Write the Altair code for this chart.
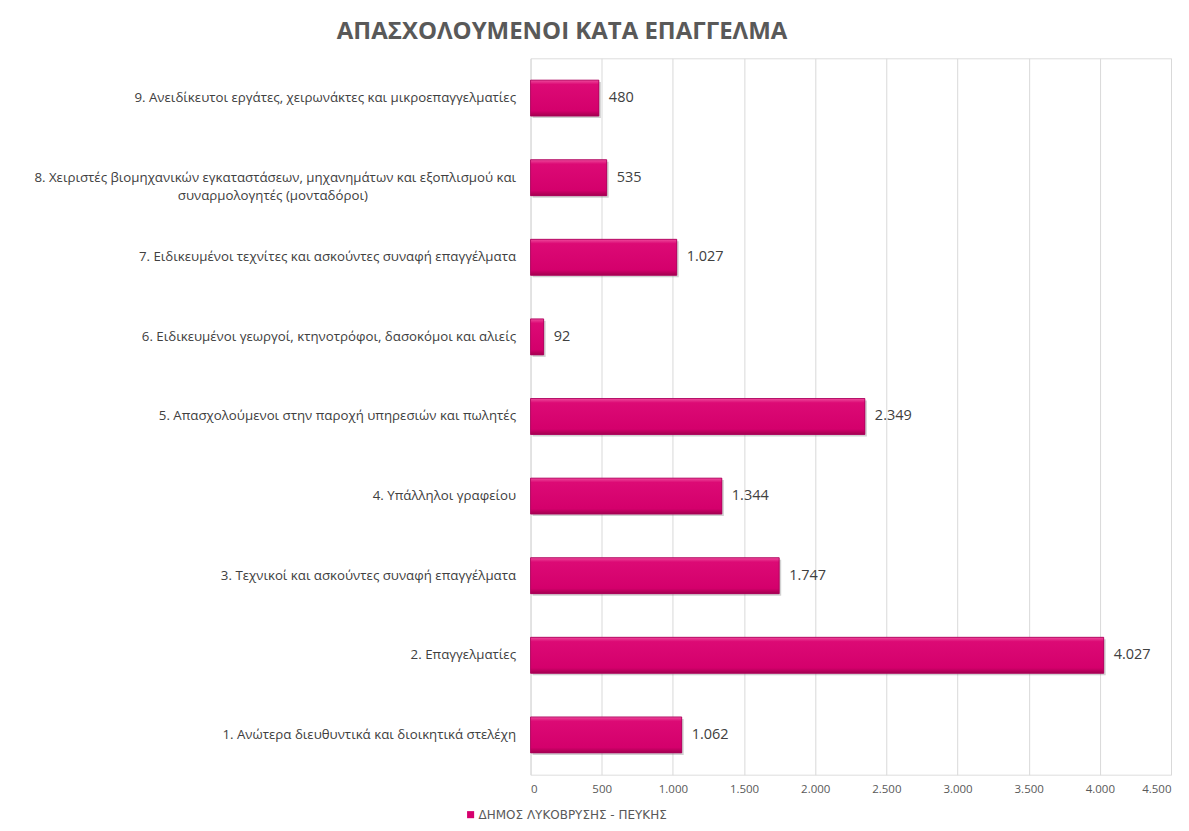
import altair as alt
import pandas as pd

categories = [
    "9. Ανειδίκευτοι εργάτες, χειρωνάκτες και μικροεπαγγελματίες",
    "8. Χειριστές βιομηχανικών εγκαταστάσεων, μηχανημάτων και εξοπλισμού και\nσυναρμολογητές (μονταδόροι)",
    "7. Ειδικευμένοι τεχνίτες και ασκούντες συναφή επαγγέλματα",
    "6. Ειδικευμένοι γεωργοί, κτηνοτρόφοι, δασοκόμοι και αλιείς",
    "5. Απασχολούμενοι στην παροχή υπηρεσιών και πωλητές",
    "4. Υπάλληλοι γραφείου",
    "3. Τεχνικοί και ασκούντες συναφή επαγγέλματα",
    "2. Επαγγελματίες",
    "1. Ανώτερα διευθυντικά και διοικητικά στελέχη",
]
values = [480, 535, 1027, 92, 2349, 1344, 1747, 4027, 1062]
series_name = "ΔΗΜΟΣ ΛΥΚΟΒΡΥΣΗΣ - ΠΕΥΚΗΣ"
x_ticks = [0, 500, 1000, 1500, 2000, 2500, 3000, 3500, 4000, 4500]

df = pd.DataFrame({"category": categories, "value": values, "series": series_name})

FONT = "Open Sans"
TEXT = "#404040"
PINK = "#D6006E"

nb = "\u00a0"
zw = "\u200b"
label_expr = (
    "indexof(datum.label, '\\n') >= 0 ? "
    "[split(datum.label, '\\n')[0], pad(split(datum.label, '\\n')[1], 70, '" + nb + "') + '" + zw + "'] "
    ": datum.label"
)

y_enc = alt.Y(
    "category:N",
    sort=categories,
    title=None,
    scale=alt.Scale(paddingInner=0.0, paddingOuter=0.0),
    axis=alt.Axis(
        domain=False, ticks=False, labelPadding=15, labelFontSize=13.3,
        labelColor=TEXT, labelFont=FONT, labelLimit=700, labelLineHeight=18,
        labelExpr=label_expr, grid=False,
    ),
)
x_enc = alt.X(
    "value:Q",
    title=None,
    scale=alt.Scale(domain=[0, 4500], nice=False),
    axis=alt.Axis(
        values=x_ticks, grid=True, gridColor="#D9D9D9", gridWidth=1,
        domain=False, ticks=False, labelPadding=9, labelFontSize=11.5,
        labelColor="#595959", labelFont=FONT,
        labelExpr="replace(format(datum.value, ','), ',', '.')",
    ),
)

base = alt.Chart(df)

shadow = base.mark_bar(size=36, color="#7a7a7a", opacity=0.35, yOffset=2, xOffset=2).encode(
    x=x_enc, y=y_enc
)

bars = base.mark_bar(size=36).encode(
    x=x_enc, y=y_enc,
    color=alt.Color(
        "series:N", title=None,
        scale=alt.Scale(range=[PINK]),
        legend=alt.Legend(
            orient="none", legendX=-66, legendY=751, symbolType="square",
            symbolSize=50, labelFontSize=12, labelColor="#595959", labelFont="DejaVu Sans",
            symbolStrokeWidth=0, labelOffset=2, labelLimit=400,
        ),
    ),
)

grad = alt.Gradient(
    gradient="linear",
    stops=[
        alt.GradientStop(color="#EE4A9C", offset=0),
        alt.GradientStop(color="#DC0A75", offset=0.12),
        alt.GradientStop(color="#D4006C", offset=0.85),
        alt.GradientStop(color="#A3004F", offset=1),
    ],
    x1=0, x2=0, y1=0, y2=1,
)
bars_top = base.mark_bar(size=36, fill=grad, stroke="#A8005A", strokeWidth=0.8).encode(
    x=x_enc, y=y_enc
)

labels = base.transform_calculate(
    txt="replace(format(datum.value, ','), ',', '.')"
).mark_text(align="left", baseline="middle", dx=10, fontSize=14.5, color=TEXT, font=FONT).encode(
    x=x_enc, y=y_enc, text="txt:N"
)

chart = alt.layer(shadow, bars, bars_top, labels).properties(
    width=641,
    height=717,
    autosize=alt.AutoSizeParams(type="none"),
    padding={"left": 523, "top": 50, "right": 10, "bottom": 50},
    title=alt.TitleParams(
        "ΑΠΑΣΧΟΛΟΥΜΕΝΟΙ ΚΑΤΑ ΕΠΑΓΓΕΛΜΑ",
        anchor="middle", dx=-289, offset=14, fontSize=24, font=FONT,
        fontWeight="bold", color="#595959",
    ),
).configure_view(stroke=None).configure(background="white")

chart.save("out.html", embed_options={"renderer": "svg", "actions": False})
